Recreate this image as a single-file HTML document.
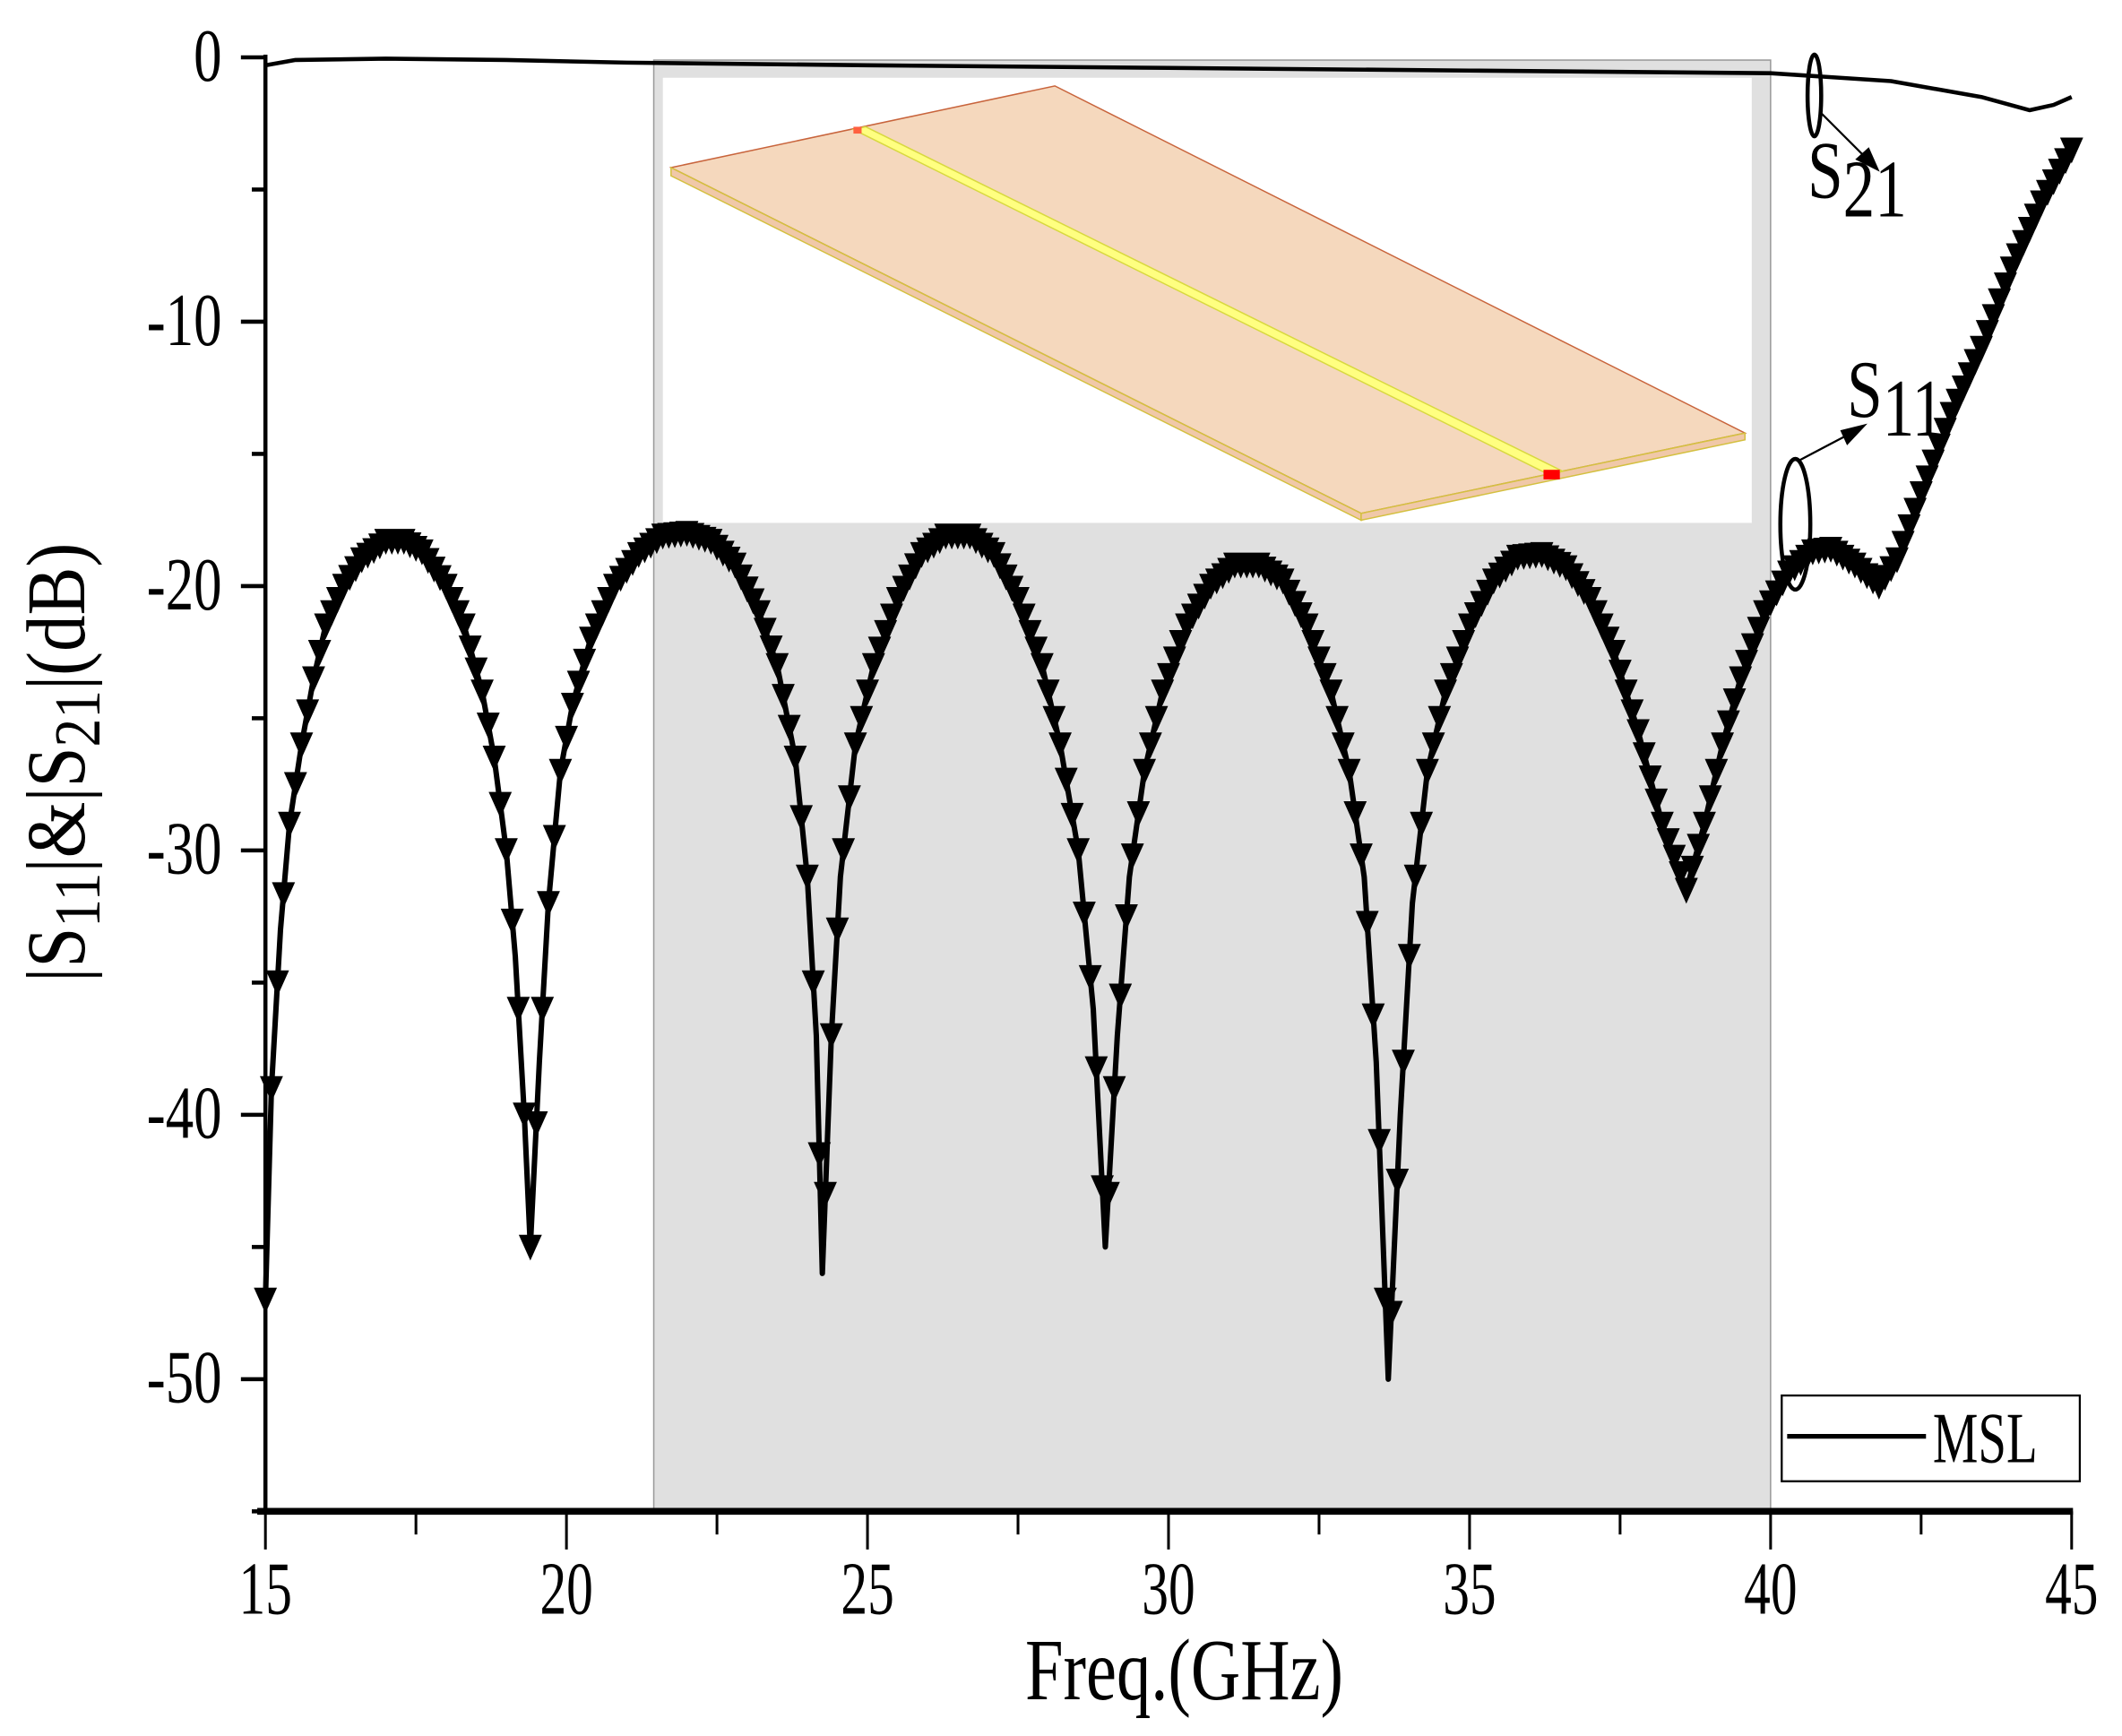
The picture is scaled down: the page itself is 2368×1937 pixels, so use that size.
<!DOCTYPE html>
<html><head><meta charset="utf-8"><style>
html,body{margin:0;padding:0;background:#fff;}
svg{display:block;}
text{font-family:"Liberation Serif",serif;fill:#000;}
</style></head><body>
<svg id="chart" width="2368" height="1937" viewBox="0 0 1559 1275" xmlns="http://www.w3.org/2000/svg">
<rect width="1559" height="1275" fill="#fff"/>
<g id="bg"></g>
<g id="inset">
  <rect x="487" y="57" width="800" height="327" fill="#fff"/>
  <polygon points="493,123 775,63 1282,318 1000,377" fill="#f5d8bd" stroke="#c8643c" stroke-width="1"/>
  <polygon points="493,123 1000,377 1000,382 493,129" fill="#f0c8a8" stroke="#d4c040" stroke-width="1"/>
  <polygon points="1000,377 1282,318 1282,323 1000,382" fill="#f0c8a8" stroke="#d4c040" stroke-width="1"/>
  <polygon points="627,95 636,93 1148,346 1139,349" fill="#ffff80" stroke="#d8d840" stroke-width="1"/>
  <rect x="1134" y="345" width="12" height="7" fill="#ff0000"/>
  <rect x="627" y="93" width="6" height="5" fill="#ff6040"/>
</g>
<g id="axes"></g>
<g id="series"></g>
<g id="annot">
  <ellipse cx="1333" cy="70" rx="5" ry="30" fill="none" stroke="#000" stroke-width="3"/>
  <line x1="1338" y1="83" x2="1370" y2="115" stroke="#000" stroke-width="1.5"/>
  <polygon points="1381,126 1363,117 1373,108" fill="#000"/>
  <text transform="translate(1328,145) scale(0.9,1.15)" font-size="52">S<tspan dy="12">21</tspan></text>
  <ellipse cx="1319" cy="385" rx="11" ry="48" fill="none" stroke="#000" stroke-width="3"/>
  <line x1="1322" y1="338" x2="1360" y2="318" stroke="#000" stroke-width="1.5"/>
  <polygon points="1372,311 1357,327 1352,316" fill="#000"/>
  <text transform="translate(1357,306) scale(0.9,1.15)" font-size="52">S<tspan dy="12">11</tspan></text>
</g>
<g id="legend">
  <rect x="1309" y="1025" width="219" height="63" fill="#fff" stroke="#000" stroke-width="1.5"/>
  <line x1="1313" y1="1055" x2="1415" y2="1055" stroke="#000" stroke-width="3.5"/>
  <text transform="translate(1420,1074) scale(0.85,1.2)" font-size="44">MSL</text>
</g>
<text transform="translate(870,1248) scale(0.9,1.15)" font-size="56" text-anchor="middle">Freq.(GHz)</text>
<text transform="translate(62,560) rotate(-90) scale(0.95,1.1)" font-size="56" text-anchor="middle">|S<tspan dy="10" font-size="44">11</tspan><tspan dy="-10">|&amp;|S</tspan><tspan dy="10" font-size="44">21</tspan><tspan dy="-10">|(dB)</tspan></text>
</svg>
<script>
const s11Freq=[15.0,15.1,15.25,15.4,15.6,15.8,16.0,16.3,16.6,17.0,17.3,17.6,18.0,18.3,18.6,18.8,19.0,19.15,19.3,19.4,19.55,19.7,19.9,20.1,20.4,20.8,21.2,21.6,22.0,22.4,22.8,23.2,23.5,23.8,24.0,24.15,24.25,24.4,24.55,24.8,25.1,25.5,25.9,26.3,26.7,27.1,27.5,27.9,28.2,28.5,28.75,28.95,29.15,29.35,29.6,29.9,30.3,30.7,31.1,31.5,31.9,32.3,32.7,33.0,33.25,33.45,33.65,33.85,34.05,34.3,34.6,35.0,35.4,35.8,36.2,36.6,37.0,37.4,37.8,38.2,38.6,38.9,39.2,39.5,39.9,40.3,40.7,41.0,41.4,41.8,42.1,42.5,43.0,43.5,44.0,44.5,45.0];
const s11Vals=[-47,-39,-33,-29,-26,-23.5,-21.5,-20,-19,-18.3,-18.3,-18.7,-20,-21.5,-24,-26.5,-30,-34,-40,-45,-38,-32,-27,-24.5,-22,-20,-18.8,-18.1,-18.0,-18.3,-19.2,-21,-23,-26.5,-31,-37,-46,-37,-31,-26,-23,-20.5,-18.8,-18.1,-18.1,-18.8,-20.5,-23,-26,-30,-36,-45,-37,-31,-27,-24,-21.5,-20,-19.2,-19.2,-19.8,-21.5,-24,-27,-31,-38,-50,-40,-32,-27,-24,-21.5,-19.8,-18.9,-18.8,-19.3,-20.5,-22.5,-25.5,-29,-31.5,-29,-26,-23.5,-21,-19.5,-18.7,-18.6,-19.2,-20,-19,-16.5,-13.5,-11,-8,-5.5,-3.5];
const s21Freq=[15,15.5,17,19,21,25,30,35,40,42,43.5,44.3,44.7,45];
const s21Vals=[-0.3,-0.1,-0.05,-0.1,-0.2,-0.3,-0.4,-0.5,-0.6,-0.9,-1.5,-2.0,-1.8,-1.5];
const xTicks=[15,20,25,30,35,40,45];
const yTicks=[0,-10,-20,-30,-40,-50];
const shadeRange=[21.45,40];

const NS='http://www.w3.org/2000/svg';
const X0=195,X1=1522,Y0=42,Y50=1013;
const xs=f=>X0+(f-15)/30*(X1-X0);
const ys=v=>Y0+(-v)/50*(Y50-Y0);
const yBot=ys(-55);
function mk(tag,attrs,parent){const e=document.createElementNS(NS,tag);for(const k in attrs)e.setAttribute(k,attrs[k]);parent.appendChild(e);return e;}

const bg=document.getElementById('bg');
const sh=mk('rect',{x:xs(shadeRange[0]),y:44,width:xs(shadeRange[1])-xs(shadeRange[0]),height:yBot-44,fill:'#e0e0e0',stroke:'#999','stroke-width':1},bg);



const ax=document.getElementById('axes');
const yl=mk('line',{x1:X0,y1:Y0-2,x2:X0,y2:yBot,stroke:'#000','stroke-width':3},ax);


const xl=mk('line',{x1:X0-6,y1:yBot,x2:X1+1,y2:yBot,stroke:'#000','stroke-width':5},ax);


for(let f=15;f<=45;f+=2.5){const maj=(f%5===0);mk('line',{x1:xs(f),y1:yBot,x2:xs(f),y2:yBot+(maj?28:17),stroke:'#000','stroke-width':2},ax);}
xTicks.forEach(t=>{const tx=mk('text',{transform:`translate(${xs(t)},${yBot+75}) scale(0.85,1.2)`,'font-size':46,'text-anchor':'middle'},ax);tx.textContent=t;

});
for(let v=0;v>=-55;v-=5){const maj=(v%10===0);mk('line',{x1:X0-(maj?18:10),y1:ys(v),x2:X0,y2:ys(v),stroke:'#000','stroke-width':3},ax);}
yTicks.forEach(t=>{const tx=mk('text',{transform:`translate(${X0-32},${ys(t)+17}) scale(0.9,1.2)`,'font-size':46,'text-anchor':'end'},ax);tx.textContent=t;

});

const sg=document.getElementById('series');
const p21=mk('polyline',{points:s21Freq.map((f,i)=>xs(f)+','+ys(s21Vals[i])).join(' '),fill:'none',stroke:'#000','stroke-width':3,'stroke-linejoin':'round'},sg);


const pts=s11Freq.map((f,i)=>[xs(f),ys(s11Vals[i])]);
const p11=mk('polyline',{points:pts.map(p=>p.join(',')).join(' '),fill:'none',stroke:'#000','stroke-width':4,'stroke-linejoin':'round'},sg);


const mg=mk('g',{},sg);


function interp(f){for(let i=0;i<s11Freq.length-1;i++){if(f>=s11Freq[i]&&f<=s11Freq[i+1]){const t=(f-s11Freq[i])/(s11Freq[i+1]-s11Freq[i]);return s11Vals[i]+t*(s11Vals[i+1]-s11Vals[i]);}}return s11Vals[s11Vals.length-1];}
let d='';
for(let f=15;f<=45.001;f+=0.1){const x=xs(f),y=ys(interp(f));d+=`M${x-8.5},${y-9}L${x+8.5},${y-9}L${x},${y+10}Z`;}
const mp=mk('path',{d:d,fill:'#000'},mg);


</script>
</body></html>
